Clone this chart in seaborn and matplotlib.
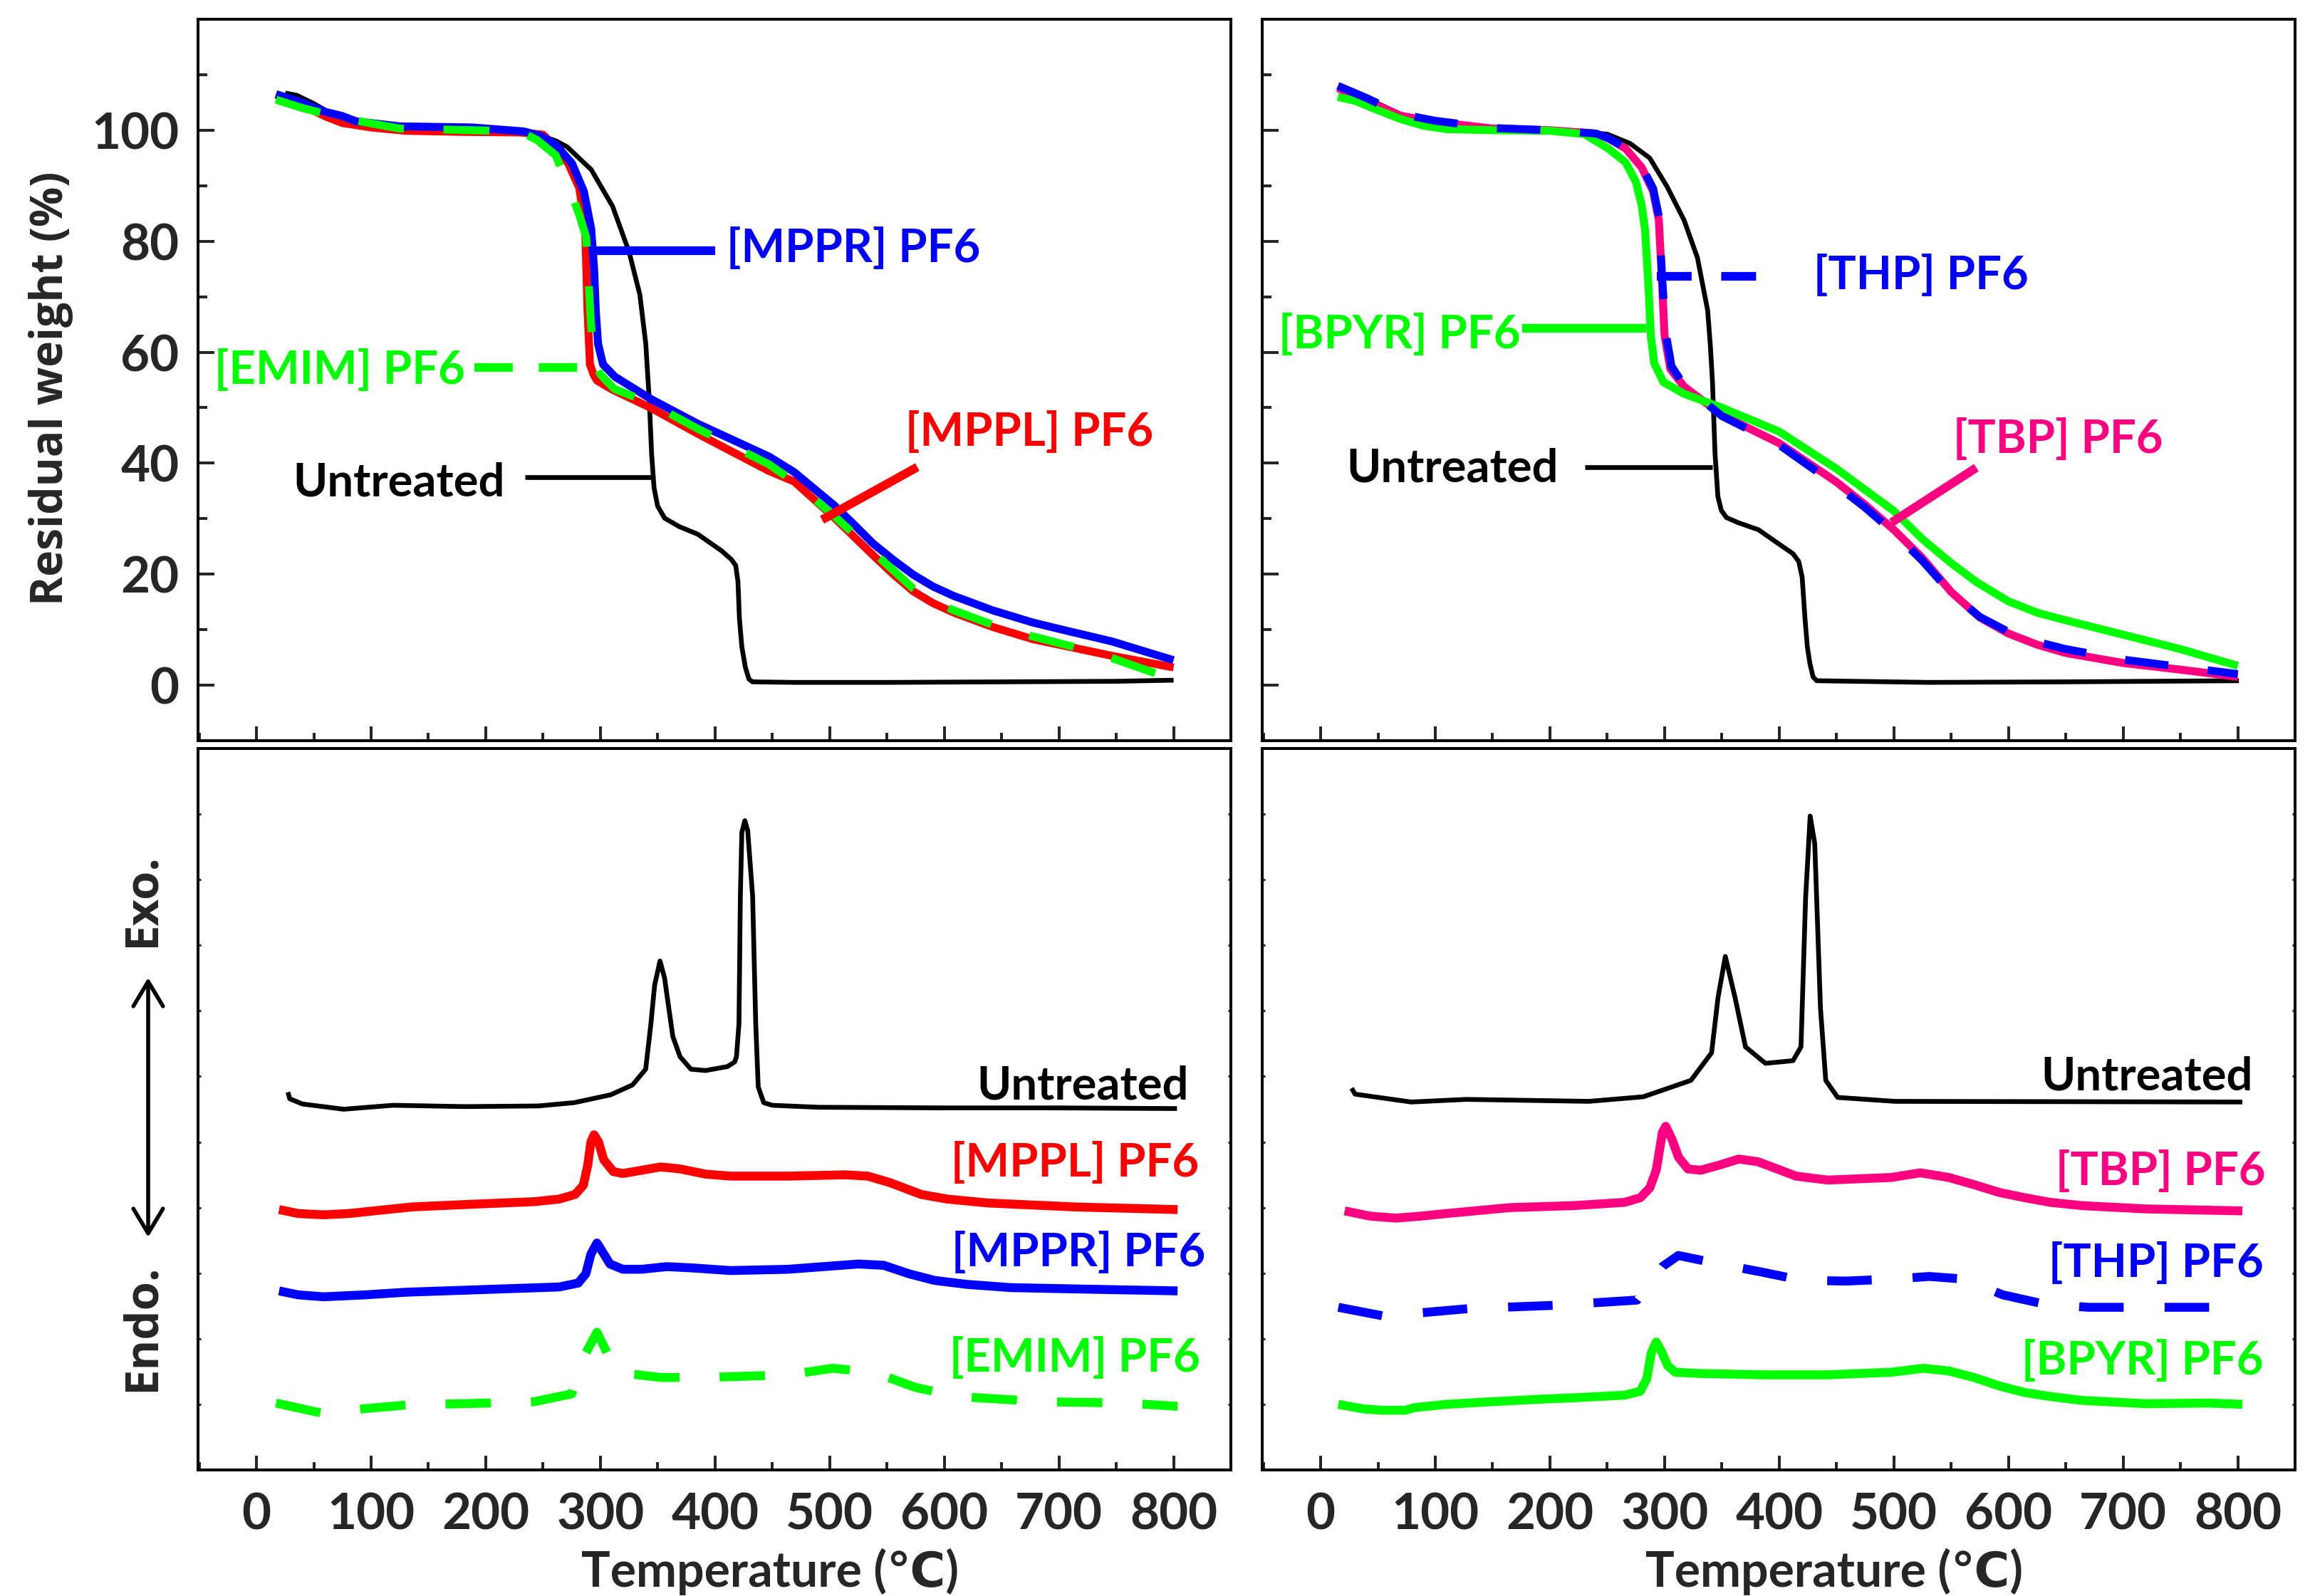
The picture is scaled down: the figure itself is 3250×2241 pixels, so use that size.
import matplotlib
matplotlib.use("Agg")
import matplotlib.pyplot as plt
import pandas as pd
import seaborn as sns

# ---------------- TGA data (top panels), residual weight in % ----------------
temp_untreated = [25, 35, 50, 65, 80, 100, 150, 200, 240, 261, 271, 292, 310.6, 325, 334.4, 339.6, 342.7,
                  344.7, 346.8, 349.9, 356, 368.5, 385, 405.8, 414, 418, 420, 421.3, 423.4, 426.5, 429.6,
                  432.7, 470, 550, 650, 750, 800]
wt_untreated = [106.7, 106.3, 104.8, 103.0, 101.9, 101.2, 100.3, 100.0, 99.6, 98.1, 97.0, 92.9, 86.3, 78.1,
                70.4, 61.5, 51.2, 41.6, 35.6, 32.3, 30.1, 28.6, 27.2, 24.2, 22.7, 21.6, 18.7, 12.0, 6.9,
                3.2, 1.1, 0.6, 0.5, 0.5, 0.6, 0.7, 0.9]

temp_mppl = [17, 40, 60, 75, 100, 130, 180, 230, 250, 261, 272, 281.6, 286.7, 288.8, 290.9, 294, 297,
             310, 343.7, 385, 447, 469, 504, 521, 538, 556, 573, 590, 608, 642, 677, 746, 800]
wt_mppl = [106.4, 104.5, 102.5, 101.3, 100.5, 99.9, 99.7, 99.6, 99.2, 97.0, 94.0, 89.6, 82.2, 67.4, 57.8,
           56.0, 54.9, 53.3, 50.0, 45.3, 38.6, 36.7, 30.2, 26.8, 23.4, 19.9, 16.9, 14.8, 13.1, 10.5,
           8.3, 5.3, 3.2]

temp_mppr = [17, 40, 60, 74.3, 87, 125, 188, 232.7, 248, 261, 275.3, 285.7, 292, 294.6, 296, 298, 302.3,
             312.6, 343.7, 385, 447, 469, 504, 521, 538, 556, 573, 590, 608, 642, 677, 711, 746, 800]
wt_mppr = [106.5, 105.0, 103.3, 102.6, 101.6, 100.7, 100.5, 99.8, 99.0, 97.4, 94.0, 88.9, 82.2, 74.8,
           67.4, 61.5, 57.8, 55.6, 51.6, 47.1, 41.2, 38.4, 32.4, 29.0, 25.5, 22.5, 19.9, 17.8, 16.1,
           13.5, 11.3, 9.6, 7.9, 4.5]

temp_emim = [17, 40, 74, 125, 230, 245, 261, 275, 282, 287.6, 289.5, 291.5, 294, 300, 312, 343.7, 385,
             447, 470, 504, 538, 573, 590, 608, 642, 677, 711, 746, 800]
wt_emim = [105.5, 104.0, 102.2, 100.3, 99.8, 98.2, 95.5, 88.5, 84.5, 80.7, 74.0, 66.0, 59.3, 56.0, 53.4,
           50.8, 46.2, 39.8, 36.5, 30.5, 24.0, 17.4, 15.2, 13.5, 10.9, 8.8, 7.0, 4.9, 1.0]

temp_untreated_r = [25, 50, 80, 100, 150, 200, 250, 270, 287, 302, 317, 328.7, 337.6, 340, 341.8, 344,
                    346.5, 349.5, 354, 364, 382, 400, 412, 417, 420, 422.6, 424.5, 426.7, 429.5, 432.7,
                    530, 650, 801]
wt_untreated_r = [106.6, 104.8, 101.9, 101.2, 100.3, 100.0, 99.3, 97.6, 95.0, 89.9, 83.8, 77.0, 67.5,
                  61.0, 54.6, 41.8, 34.0, 31.5, 30.2, 29.3, 28.0, 25.4, 23.7, 22.3, 19.5, 11.7, 7.0, 4.0,
                  1.5, 0.8, 0.5, 0.6, 0.8]

temp_tbp = [15, 40, 70, 100, 150, 200, 240, 251, 266, 280, 290, 295, 298, 300, 305, 317, 350, 400, 450,
            475, 500, 525, 550, 575, 600, 625, 650, 700, 750, 800]
wt_tbp = [107.6, 105.3, 102.6, 101.5, 100.3, 100.0, 99.4, 98.5, 96.7, 93.3, 89.0, 83.8, 71.8, 63.0, 57.0,
          53.8, 48.7, 43.6, 36.6, 32.5, 28.0, 22.9, 16.8, 12.2, 9.3, 7.3, 5.8, 4.0, 2.8, 1.5]

temp_thp = [15, 40, 70, 100, 150, 200, 240, 251, 266, 280, 290, 295, 298, 301, 306, 317, 350, 400, 450,
            475, 500, 525, 550, 575, 600, 625, 650, 700, 750, 800]
wt_thp = [108.0, 105.8, 102.9, 101.7, 100.4, 100.0, 99.4, 98.6, 96.8, 93.5, 89.5, 84.5, 73.0, 63.5, 57.5,
          54.0, 48.5, 43.3, 36.0, 32.0, 27.5, 22.4, 16.6, 12.3, 9.6, 7.8, 6.5, 4.6, 3.3, 2.0]

temp_bpyr = [15, 30, 50, 70, 90, 110, 150, 200, 230, 251, 266, 275, 280, 283, 286, 288, 291, 299, 317,
             350, 400, 450, 500, 525, 550, 572, 600, 626, 650, 700, 750, 800]
wt_bpyr = [106.0, 105.3, 103.6, 102.0, 100.8, 100.2, 100.0, 99.9, 99.3, 96.7, 94.2, 90.7, 86.5, 82.0,
           71.8, 63.0, 58.0, 54.6, 52.5, 50.0, 45.7, 39.0, 31.4, 26.3, 22.0, 18.6, 15.1, 13.0, 11.7, 9.1,
           6.5, 3.5]

# ---------------- DSC data (bottom panels), arbitrary units ----------------
dsc_t_untreated = [27.4, 29, 40, 76, 119, 182, 246, 277, 309, 328, 339.5, 344.1, 347.3, 352, 356, 358.4,
                   363.2, 369.5, 379, 391.7, 410.8, 417.1, 418.7, 420.9, 422.1, 423.4, 426, 428.5,
                   432.8, 435.5, 437.7, 442.5, 450, 490, 600, 700, 803]
dsc_untreated = [5.76, 5.66, 5.58, 5.50, 5.56, 5.54, 5.55, 5.60, 5.72, 5.87, 6.11, 6.81, 7.39, 7.76, 7.50,
                 7.20, 6.61, 6.30, 6.11, 6.09, 6.15, 6.22, 6.30, 6.81, 8.75, 9.72, 9.90, 9.75, 8.75, 6.81,
                 5.84, 5.60, 5.56, 5.53, 5.52, 5.52, 5.51]

dsc_t_mppl = [19.7, 36.3, 58.5, 80.8, 102.4, 135.6, 186, 242, 264, 277.9, 285.1, 289, 291.7, 294.5,
              298.4, 302.9, 311.2, 319.5, 336.2, 352.5, 369.4, 392, 413.9, 463.9, 513.5, 533.3, 552.7,
              580, 602.6, 638.5, 714, 803.5]
dsc_mppl = [3.97, 3.91, 3.89, 3.91, 3.95, 4.01, 4.05, 4.09, 4.13, 4.20, 4.34, 4.65, 5.00, 5.11, 5.00,
            4.73, 4.55, 4.52, 4.57, 4.62, 4.59, 4.51, 4.48, 4.48, 4.50, 4.48, 4.38, 4.20, 4.13, 4.07,
            4.01, 3.97]

dsc_t_mppr = [19.7, 36.3, 58.5, 95, 130.5, 214, 264, 280.7, 287.3, 291.7, 297, 301.7, 308.4, 319.5,
              336.2, 358, 380.6, 413.6, 463.9, 525, 547.2, 569.4, 591.5, 619.4, 658, 714, 803.5]
dsc_mppr = [2.73, 2.67, 2.64, 2.67, 2.71, 2.76, 2.79, 2.85, 2.99, 3.29, 3.46, 3.33, 3.14, 3.06, 3.06,
            3.10, 3.08, 3.04, 3.06, 3.14, 3.12, 2.99, 2.89, 2.83, 2.78, 2.76, 2.73]

dsc_t_emim = [17, 56, 92, 130.6, 203, 242, 275, 286, 297, 314, 352.5, 392, 464, 502.5, 538.5, 574.6,
              611, 686, 758, 803.5]
dsc_emim = [1.02, 0.87, 0.93, 0.99, 1.02, 1.04, 1.16, 1.74, 2.10, 1.49, 1.41, 1.41, 1.45, 1.55, 1.49,
            1.26, 1.12, 1.04, 1.02, 0.97]

dsc_t_untreated_r = [27, 30, 79, 127, 234, 281.5, 323, 341, 346.6, 353, 361.5, 370.6, 388, 412, 419, 423,
                     427, 431, 436, 440.6, 451, 501, 804]
dsc_untreated_r = [5.82, 5.73, 5.61, 5.65, 5.62, 5.69, 5.94, 6.36, 7.20, 7.83, 7.20, 6.45, 6.20, 6.24,
                   6.45, 8.71, 9.97, 9.55, 7.04, 5.94, 5.68, 5.62, 5.61]

dsc_t_tbp = [20.9, 43.1, 65.3, 87.5, 109.7, 165.1, 220.6, 265, 278.8, 287.1, 292.7, 298.2, 301, 306.5,
             312.1, 320.4, 331.5, 348.1, 364.8, 381.4, 398.1, 414.7, 442.4, 497.9, 522.9, 547.8, 570,
             592.2, 614.4, 636.5, 664.3, 719.7, 804]
dsc_tbp = [3.95, 3.87, 3.84, 3.87, 3.91, 4.00, 4.03, 4.08, 4.15, 4.30, 4.57, 5.15, 5.24, 5.04, 4.77, 4.59,
           4.57, 4.65, 4.74, 4.70, 4.59, 4.48, 4.42, 4.46, 4.53, 4.46, 4.35, 4.23, 4.15, 4.08, 4.03,
           3.98, 3.95]

dsc_t_thp = [15.4, 54, 90, 129, 204, 276, 298, 312, 348, 384, 420, 459, 498, 531, 561.5, 595, 631, 669.6,
             753, 803]
dsc_thp = [2.48, 2.35, 2.40, 2.46, 2.51, 2.59, 3.10, 3.27, 3.14, 3.02, 2.89, 2.88, 2.91, 2.95, 2.91, 2.67,
           2.53, 2.48, 2.48, 2.48]

dsc_t_bpyr = [15.4, 37.6, 54, 73.6, 82, 109.7, 148.5, 192.9, 220.6, 265, 278.8, 284.5, 288.3, 292.7,
              297.2, 302.7, 309.3, 331.5, 387, 442.4, 497.9, 525.6, 547.8, 570, 592.2, 614.4, 636.5,
              664.3, 719.7, 775, 804]
dsc_bpyr = [1.00, 0.93, 0.91, 0.91, 0.95, 1.00, 1.04, 1.08, 1.10, 1.14, 1.20, 1.39, 1.78, 1.95, 1.81,
            1.59, 1.49, 1.47, 1.45, 1.45, 1.49, 1.55, 1.51, 1.41, 1.28, 1.18, 1.12, 1.06, 1.01, 1.02,
            1.00]

# labels: (text, x, y) and leader lines (x pair, y pair)
tga_left_labels = [("[MPPR] PF6", 410, 76.2), ("[EMIM] PF6", -37, 54.3),
                   ("Untreated", 32, 34.1), ("[MPPL] PF6", 566, 43.1)]
tga_left_leaders = [([292.7, 400], [78.35, 78.35]), ([190, 293], [57.3, 57.3]),
                    ([234, 344.6], [37.5, 37.5]), ([576.5, 493.4], [39.3, 29.8])]
tga_right_labels = [("[THP] PF6", 430, 71.4), ("[BPYR] PF6", -37, 60.7),
                    ("Untreated", 22.6, 36.6), ("[TBP] PF6", 551.6, 41.8)]
tga_right_leaders = [([293, 400], [73.7, 73.7]), ([176, 284], [64.3, 64.3]),
                     ([230.6, 342], [39.3, 39.3]), ([572, 498], [39.2, 29.3])]
dsc_left_labels = [("Untreated", 813, 5.65), ("[MPPL] PF6", 822, 4.47),
                   ("[MPPR] PF6", 828, 3.11), ("[EMIM] PF6", 823, 1.50)]
dsc_right_labels = [("Untreated", 813, 5.79), ("[TBP] PF6", 824, 4.34),
                    ("[THP] PF6", 822.5, 2.94), ("[BPYR] PF6", 822.5, 1.45)]

RED, BLUE, GREEN, PINK, BLACK = "#FF0000", "#0000FF", "#00FF00", "#FF0080", "#000000"

sns.set_theme(style="ticks")
plt.rcParams["font.family"] = ["Lato", "DejaVu Sans"]
plt.rcParams["font.weight"] = "bold"

W, H = 3250, 2241
fig = plt.figure(figsize=(W / 100, H / 100), dpi=100)


def px_axes(l, t, r, b):
    return fig.add_axes([l / W, 1 - b / H, (r - l) / W, (b - t) / H])


ax_tl = px_axes(278, 27, 1728, 1040)
ax_tr = px_axes(1772, 27, 3222, 1040)
ax_bl = px_axes(278, 1051, 1728, 2064)
ax_br = px_axes(1772, 1051, 3222, 2064)


def curve(ax, x, y, color, lw, dashes=None):
    df = pd.DataFrame({"T": x, "v": y})
    sns.lineplot(data=df, x="T", y="v", ax=ax, color=color, linewidth=lw,
                 sort=False, estimator=None, solid_capstyle="butt")
    line = ax.lines[-1]
    if dashes is not None:
        line.set_dashes(dashes)
        line.set_dash_capstyle("butt")


def leader(ax, xs, ys, color, lw, dashes=None):
    line, = ax.plot(xs, ys, color=color, lw=lw, solid_capstyle="butt")
    if dashes is not None:
        line.set_dashes(dashes)
        line.set_dash_capstyle("butt")


def style(ax, top):
    ax.set_xlim(-51, 850)
    ax.set_xlabel("")
    ax.set_ylabel("")
    for s in ax.spines.values():
        s.set_visible(True)
        s.set_linewidth(2.9)
        s.set_color("black")
    ax.set_xticks(range(0, 801, 100))
    ax.set_xticks(range(-50, 851, 50), minor=True)
    ax.tick_params(axis="x", which="major", direction="in", length=14.4, width=2.9,
                   labelsize=51, pad=22, labelbottom=not top)
    ax.tick_params(axis="x", which="minor", direction="in", length=8, width=2.9)
    if top:
        ax.set_ylim(-10, 120)
        ax.set_yticks(range(0, 101, 20))
        ax.set_yticks(range(-10, 121, 10), minor=True)
        ax.tick_params(axis="y", which="major", direction="in", length=16.5, width=2.9,
                       labelsize=51, pad=19)
        ax.tick_params(axis="y", which="minor", direction="in", length=9.4, width=2.9)
    else:
        ax.set_ylim(0, 11)
        ax.set_yticks(range(0, 12))
        ax.tick_params(axis="y", which="major", direction="in", length=3, width=2.2,
                       left=True, right=True, labelleft=False)
    ax.set_facecolor("white")


LBL = 47

# ---- top-left TGA
curve(ax_tl, temp_untreated, wt_untreated, BLACK, 4.8)
curve(ax_tl, temp_mppl, wt_mppl, RED, 8.0)
curve(ax_tl, temp_mppr, wt_mppr, BLUE, 8.0)
curve(ax_tl, temp_emim, wt_emim, GREEN, 8.0, dashes=(5.8, 5.0))
style(ax_tl, True)
for (s, x, y), (lx, ly), c in zip(tga_left_labels, tga_left_leaders, [BLUE, GREEN, BLACK, RED]):
    ax_tl.text(x, y, s, color=c, fontsize=LBL, ha="left", va="baseline")
    if c == GREEN:
        leader(ax_tl, lx, ly, c, 8.8, dashes=(4.4, 3.0))
    elif c == BLACK:
        leader(ax_tl, lx, ly, c, 4.8)
    else:
        leader(ax_tl, lx, ly, c, 8.8)

# ---- top-right TGA
curve(ax_tr, temp_untreated_r, wt_untreated_r, BLACK, 4.8)
curve(ax_tr, temp_tbp, wt_tbp, PINK, 8.0)
curve(ax_tr, temp_bpyr, wt_bpyr, GREEN, 8.0)
curve(ax_tr, temp_thp, wt_thp, BLUE, 8.0, dashes=(5.5, 5.0))
style(ax_tr, True)
ax_tr.tick_params(axis="y", labelleft=False)
for (s, x, y), (lx, ly), c in zip(tga_right_labels, tga_right_leaders, [BLUE, GREEN, BLACK, PINK]):
    ax_tr.text(x, y, s, color=c, fontsize=LBL, ha="left", va="baseline")
    if c == BLUE:
        leader(ax_tr, lx, ly, c, 8.8, dashes=(4.0, 3.4))
    elif c == BLACK:
        leader(ax_tr, lx, ly, c, 4.8)
    else:
        leader(ax_tr, lx, ly, c, 8.8)

# ---- bottom-left DSC
curve(ax_bl, dsc_t_untreated, dsc_untreated, BLACK, 4.8)
curve(ax_bl, dsc_t_mppl, dsc_mppl, RED, 9.0)
curve(ax_bl, dsc_t_mppr, dsc_mppr, BLUE, 9.0)
curve(ax_bl, dsc_t_emim, dsc_emim, GREEN, 9.0, dashes=(5.1, 4.5))
style(ax_bl, False)
for (s, x, y), c in zip(dsc_left_labels, [BLACK, RED, BLUE, GREEN]):
    ax_bl.text(x, y, s, color=c, fontsize=LBL, ha="right", va="baseline")

# ---- bottom-right DSC
curve(ax_br, dsc_t_untreated_r, dsc_untreated_r, BLACK, 4.8)
curve(ax_br, dsc_t_tbp, dsc_tbp, PINK, 9.0)
curve(ax_br, dsc_t_thp, dsc_thp, BLUE, 9.0, dashes=(5.0, 4.6))
curve(ax_br, dsc_t_bpyr, dsc_bpyr, GREEN, 9.0)
style(ax_br, False)
for (s, x, y), c in zip(dsc_right_labels, [BLACK, PINK, BLUE, GREEN]):
    ax_br.text(x, y, s, color=c, fontsize=LBL, ha="right", va="baseline")

# ---- axis titles and side annotations
fig.text(72 / W, 1 - 545 / H, "Residual weight (%)", rotation=90, ha="center", va="center",
         family="Open Sans", fontsize=45, weight="bold")
fig.text(200 / W, 1 - 1264 / H, "Exo.", rotation=90, ha="center", va="center",
         family="Open Sans", fontsize=47, weight="bold")
fig.text(200 / W, 1 - 1864 / H, "Endo.", rotation=90, ha="center", va="center",
         family="Open Sans", fontsize=47, weight="bold")
ax_bl.annotate("", xy=(208 / W, 1 - 1370 / H), xytext=(208 / W, 1 - 1740 / H),
               xycoords="figure fraction", textcoords="figure fraction",
               arrowprops=dict(arrowstyle="<->,head_length=0.5,head_width=0.3",
                               lw=4, color="black", mutation_scale=50))
for cx in (1081, 2575):
    fig.text(cx / W, 1 - 2228 / H, "Temperature (\u2103)", ha="center", va="baseline", fontsize=49)

fig.savefig("out.png", dpi=100, facecolor="white")
